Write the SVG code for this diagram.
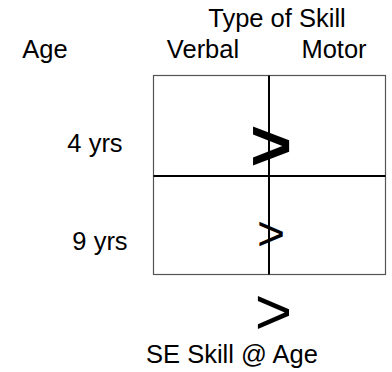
<svg xmlns="http://www.w3.org/2000/svg" width="392" height="372" viewBox="0 0 392 372">
<style>
text{font-family:"Liberation Sans",Arial,sans-serif;fill:#000}
.lbl{font-size:25.5px}
.mid{text-anchor:middle}
.outer{fill:none;stroke:#555;stroke-width:1.2}
.inner{stroke:#000;stroke-width:2}
</style>
<rect width="392" height="372" fill="#fff"/>
<g id="headers">
<text class="lbl mid" x="277" y="27">Type of Skill</text>
<text class="lbl mid" x="45" y="58">Age</text>
<text class="lbl mid" x="203" y="58">Verbal</text>
<text class="lbl mid" x="334" y="58">Motor</text>
</g>
<g id="rows">
<text class="lbl mid" x="95" y="152">4 yrs</text>
<text class="lbl mid" x="100" y="250">9 yrs</text>
</g>
<g id="grid">
<rect class="outer" x="153.5" y="75.5" width="232" height="199"/>
<line class="inner" x1="269" y1="75.5" x2="269" y2="274.5"/>
<line class="inner" x1="153.5" y1="176" x2="385.5" y2="176"/>
</g>
<g id="comparisons">
<text class="mid" x="271" y="170" font-size="72" font-weight="bold">&gt;</text>
<text class="mid" x="271" y="250" font-size="48">&gt;</text>
<text class="mid" x="273.5" y="334" font-size="64">&gt;</text>
</g>
<g id="footer">
<text class="lbl mid" x="232" y="363">SE Skill @ Age</text>
</g>
</svg>
